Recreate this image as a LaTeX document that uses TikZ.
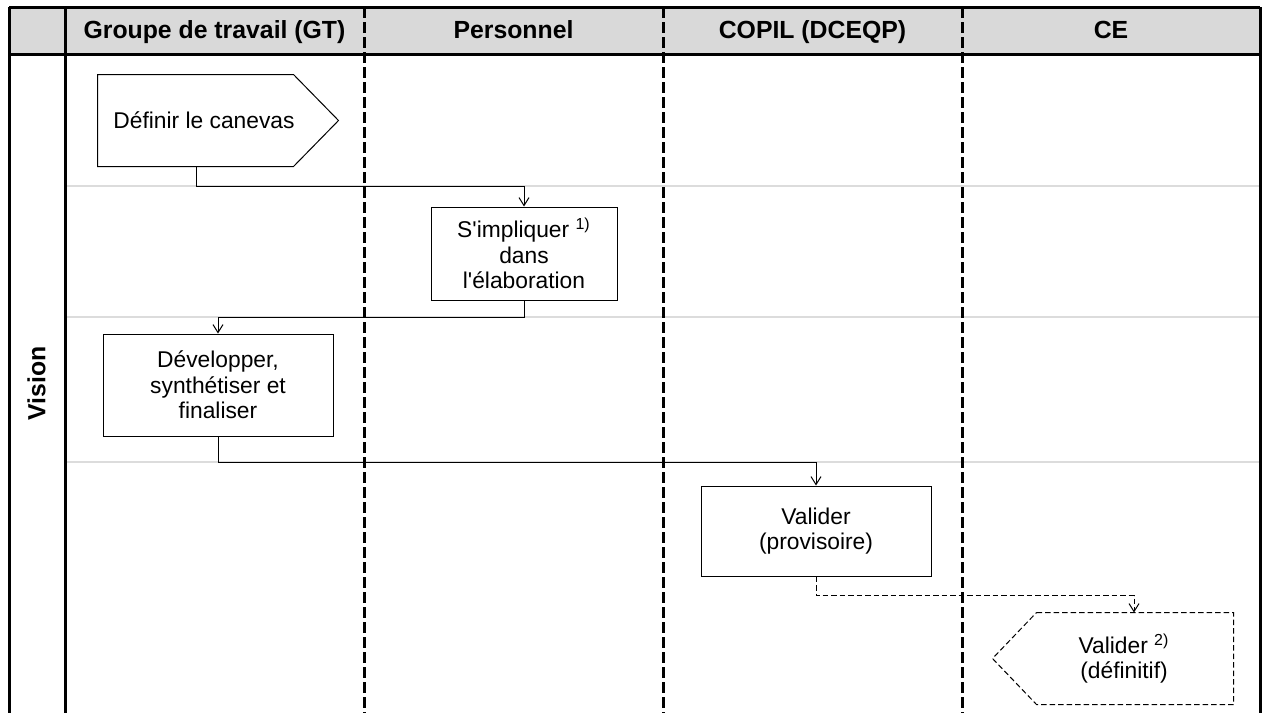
\documentclass[tikz,border=0pt]{standalone}
\usepackage{fontspec}
\setmainfont{Liberation Sans}[Ligatures=TeXOff]
\usetikzlibrary{arrows.meta}
\definecolor{headgray}{RGB}{217, 217, 217}
\definecolor{rowgray}{RGB}{220, 220, 220}

\begin{document}
\begin{tikzpicture}[
    x=0.5pt, y=-0.5pt,
    lane/.style={line width=1.5pt, color=black},
    lanedash/.style={lane, dash pattern=on 5.5pt off 2pt},
    rowline/.style={line width=1pt, color=rowgray},
    head/.style={font=\fontsize{12.4}{14}\selectfont\bfseries, anchor=base},
    task/.style={rectangle, draw=black, line width=0.5pt, align=center, inner sep=0pt, font=\fontsize{11.4}{12.75}\selectfont},
    taskdash/.style={line width=0.5pt, dash pattern=on 2.75pt off 1.5pt},
    arrow/.style={-{Straight Barb[length=4pt,width=5pt]}, line width=0.5pt}
]
\useasboundingbox (0,0) rectangle (1262,713);

% Header
\fill[headgray] (9,7) rectangle (1260,54);
\node[head] (gt) at (214.5,38.5) {Groupe de travail (GT)};
\node[head] (pers) at (513.5,38.5) {Personnel};
\node[head] (copil) at (812.5,38.5) {COPIL (DCEQP)};
\node[head] (ce) at (1111,38.5) {CE};
\node[head, anchor=center, rotate=90] (vision) at (36.5,383.5) {Vision};

% Rows
\draw[rowline] (65,186) -- (1260,186);
\draw[rowline] (65,317) -- (1260,317);
\draw[rowline] (65,462) -- (1260,462);

% Lanes
\draw[lane] (9,7) -- (1260,7);
\draw[lane] (9,54) -- (1260,54);
\draw[lane] (9,7) -- (9,713);
\draw[lane] (65,7) -- (65,713);
\draw[lane] (1260,7) -- (1260,713);
\draw[lanedash] (364,7) -- (364,713);
\draw[lanedash] (663,7) -- (663,713);
\draw[lanedash] (962,7) -- (962,713);

% Tasks
\node[task, draw=none, minimum width=97.5pt, minimum height=45.5pt] (canevas) at (204,120.5) {Définir le canevas};
\draw[line width=0.5pt] ([xshift=-4.25pt]canevas.north west) -- ([xshift=-4.25pt]canevas.north east) -- ([xshift=18.25pt]canevas.east) -- ([xshift=-4.25pt]canevas.south east) -- ([xshift=-4.25pt]canevas.south west) -- cycle;

\node[task, minimum width=93pt, minimum height=46.5pt] (impl) at (524,253.5) {S'impliquer \textsuperscript{1)}\\dans\\l'élaboration};
\node[task, minimum width=115pt, minimum height=51pt] (dev) at (218,385) {Développer,\\synthétiser et\\finaliser};
\node[task, minimum width=115pt, minimum height=45pt] (prov) at (816,531) {Valider\\(provisoire)};

\node[task, draw=none, minimum width=98pt, minimum height=45.5pt] (defin) at (1124,658.5) {Valider \textsuperscript{2)}\\(définitif)};
\draw[taskdash] ([xshift=5.5pt]defin.north west) -- ([xshift=5.5pt]defin.north east) -- ([xshift=5.5pt]defin.south east) -- ([xshift=5.5pt]defin.south west) -- ([xshift=-16.5pt]defin.west) -- cycle;

% Flow
\draw[arrow] ([xshift=-4pt]canevas.south) -- ++(0,20) -| (impl.north);
\draw[arrow] (impl.south) -- ++(0,17) -| (dev.north);
\draw[arrow] (dev.south) -- ++(0,26) -| (prov.north);
\draw[arrow, taskdash] (prov.south) -- ++(0,19) -| ([xshift=5pt]defin.north);

\end{tikzpicture}
\end{document}
